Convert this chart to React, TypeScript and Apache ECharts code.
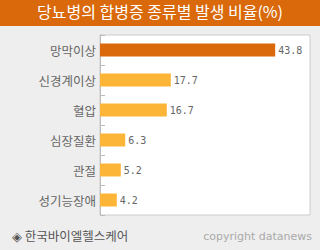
import React, { useEffect, useRef } from "react";
import * as echarts from "echarts";

const categories = ["망막이상", "신경계이상", "혈압", "심장질환", "관절", "성기능장애"];
const values = [43.8, 17.7, 16.7, 6.3, 5.2, 4.2];
const titleText = "당뇨병의 합병증 종류별 발생 비율(%)";
const sourceText = "◈ 한국바이엘헬스케어";
const copyrightText = "copyright datanews";

const HIGHLIGHT = "#D9690A";
const NORMAL = "#FCB537";

export default function App() {
  const ref = useRef<HTMLDivElement>(null);
  useEffect(() => {
    if (!ref.current) return;
    const chart = echarts.init(ref.current, undefined, { renderer: "svg" });
    chart.setOption({
      animation: false,
      backgroundColor: "#EEEEEE",
      grid: {
        left: 100,
        top: 35,
        width: 210,
        height: 180,
        show: true,
        backgroundColor: "#FFFFFF",
        borderColor: "#CCCCCC",
        borderWidth: 1,
      },
      xAxis: {
        type: "value",
        min: 0,
        max: 52.5,
        show: false,
      },
      yAxis: {
        type: "category",
        inverse: true,
        data: categories,
        axisLine: { show: true, lineStyle: { color: "#BBBBBB", width: 1 } },
        axisTick: { show: true, inside: true, length: 5, lineStyle: { color: "#BBBBBB" } },
        axisLabel: {
          color: "#666666",
          fontSize: 12.5,
          fontFamily: "Noto Sans CJK KR",
          margin: 4,
        },
        splitLine: { show: false },
      },
      series: [
        {
          type: "bar",
          barWidth: 13,
          data: values.map((v, i) => ({
            value: v,
            itemStyle: { color: i === 0 ? HIGHLIGHT : NORMAL },
          })),
          label: {
            show: true,
            position: "right",
            distance: 3,
            color: "#666666",
            fontSize: 10,
            fontFamily: "DejaVu Sans Mono",
          },
        },
      ],
      graphic: [
        {
          type: "rect",
          left: 0,
          top: 0,
          shape: { width: 320, height: 26 },
          style: { fill: HIGHLIGHT },
        },
        {
          type: "text",
          left: "center",
          top: 3,
          style: {
            text: titleText,
            fill: "#FFFFFF",
            fontSize: 16,
            fontFamily: "Noto Sans CJK KR",
          },
        },
        {
          type: "text",
          left: 12,
          top: 229,
          style: {
            text: sourceText,
            fill: "#555555",
            fontSize: 12.5,
            fontFamily: "Noto Sans CJK KR",
          },
        },
        {
          type: "text",
          right: 8,
          top: 231,
          style: {
            text: copyrightText,
            fill: "#AAAAAA",
            fontSize: 11,
            fontFamily: "DejaVu Sans",
          },
        },
      ],
    });
    return () => chart.dispose();
  }, []);
  return (
    <div
      ref={ref}
      style={{ position: "fixed", left: 0, top: 0, width: 320, height: 250 }}
    />
  );
}
